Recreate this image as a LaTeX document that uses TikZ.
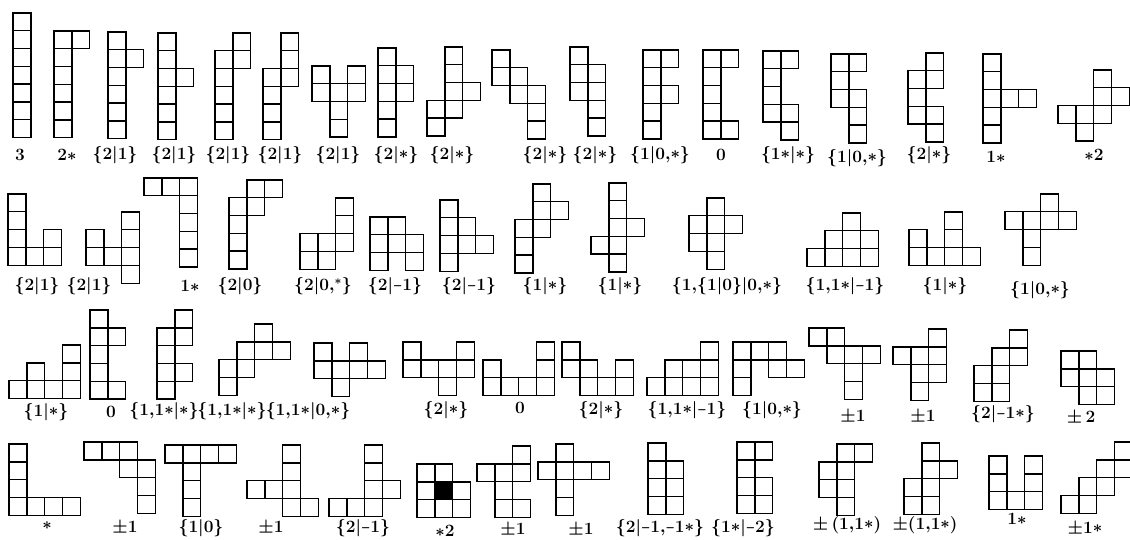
\documentclass[tikz,border=0pt]{standalone}
\usepackage{amsmath,amssymb,graphicx}
\usepackage{tikz}
\newcommand{\st}{\mathord{\raisebox{0.03em}{\scalebox{0.95}{$\ast$}}}}
\newcommand{\mn}{\mathord{\scalebox{0.6}[1]{$-$}}}
\newcommand{\cm}{\mathord{,}}

\begin{document}
\begin{tikzpicture}[x=1pt,y=-1pt,
cell/.style={draw=black,line width=1.4pt},
val/.style={inner sep=0pt,text=black,font=\fontsize{17}{17}\selectfont\boldmath}]
\def\u{17.8}
\fill[white] (0,0) rectangle (1130,540);
\useasboundingbox (0,0) rectangle (1130,540);

% row 1
\foreach \ox/\oy/\cells in {13/13/{0/0,0/1,0/2,0/3,0/4,0/5,0/6},
 54/31/{0/0,1/0,0/1,0/2,0/3,0/4,0/5},
 108/32/{0/0,0/1,1/1,0/2,0/3,0/4,0/5},
 158/33/{0/0,0/1,0/2,1/2,0/3,0/4,0/5},
 215/33/{1/0,1/1,0/1,0/2,0/3,0/4,0/5},
 263/33/{1/0,1/1,1/2,0/2,0/3,0/4,0/5},
 312/66/{0/0,0/1,1/1,1/2,1/3,2/0,2/1},
 378/48/{0/0,0/1,0/2,0/3,0/4,1/1,1/2},
 427/47/{1/0,1/1,1/2,1/3,2/2,0/3,0/4},
 492/50/{0/0,0/1,1/1,1/2,2/2,2/3,2/4},
 570/47/{0/0,0/1,0/2,1/1,1/2,1/3,1/4},
 643/50/{0/0,0/1,0/2,0/3,0/4,1/0,1/2},
 703/50/{0/0,0/1,0/2,0/3,0/4,1/0,1/4},
 763/51/{0/0,0/1,0/2,0/3,1/0,1/3,1/4},
 831/54/{0/0,0/1,0/2,1/0,1/2,1/3,1/4},
 908/53/{1/0,1/1,0/1,0/2,0/3,1/3,1/4},
 983/54/{0/0,0/1,0/2,0/3,0/4,1/2,2/2},
 1058/70/{2/0,2/1,3/1,0/2,1/2,2/2,1/3}}
{
\foreach \c/\r in \cells
 \draw[cell] ({\ox+\u*\c},{\oy+\u*\r}) rectangle ++(\u,\u);
}
\foreach \x/\y/\t [count=\i] in {20/155/{$3$},67/155/{$2\st$},
 115/155/{$\{2|1\}$},174/155/{$\{2|1\}$},228/155/{$\{2|1\}$},280/155/{$\{2|1\}$},338/155/{$\{2|1\}$},
 396/155/{$\{2|\st\}$},452/155/{$\{2|\st\}$},545/155/{$\{2|\st\}$},595/155/{$\{2|\st\}$},
 660/155/{$\{1|0\cm\st\}$},721/155/{$0$},788/155/{$\{1\st|\st\}$},857/158/{$\{1|0\cm\st\}$},
 929/155/{$\{2|\st\}$},996/157/{$1\st$},1094/155/{$\st2$}}
{
\node[val] (a\i) at (\x,\y) {\t};
}

% row 2
\foreach \ox/\oy/\cells in {8/194/{0/0,0/1,0/2,0/3,1/3,2/2,2/3},
 86/212/{2/0,2/1,2/2,2/3,0/1,0/2,1/2},
 144/178/{0/0,1/0,2/0,2/1,2/2,2/3,2/4},
 229/180/{1/0,2/0,0/1,1/1,0/2,0/3,0/4},
 300/198/{2/0,2/1,2/2,0/2,0/3,1/2,1/3},
 370/217/{0/0,0/1,0/2,1/0,1/1,2/1,2/2},
 440/200/{0/0,0/1,0/2,0/3,1/1,1/2,2/2},
 515/184/{1/0,1/1,1/2,2/1,0/2,0/3,0/4},
 591/183/{1/0,1/1,1/2,1/3,1/4,2/2,0/3},
 689/198/{1/0,1/1,1/2,1/3,2/1,0/1,0/2},
 807/213/{2/0,1/1,2/1,3/1,0/2,1/2,2/2,3/2},
 909/212/{0/2,1/2,2/2,3/2,0/1,2/0,2/1},
 1005/194/{2/0,0/1,1/1,2/1,3/1,1/2,1/3}}
{
\foreach \c/\r in \cells
 \draw[cell] ({\ox+\u*\c},{\oy+\u*\r}) rectangle ++(\u,\u);
}
\foreach \x/\y/\t [count=\i] in {37/286/{$\{2|1\}$},89/286/{$\{2|1\}$},190/286/{$1\st$},
 240/286/{$\{2|0\}$},323/286/{$\{2|0\cm{}^{*}\}$},395/286/{$\{2|\mn1\}$},469/286/{$\{2|\mn1\}$},
 545/286/{$\{1|\st\}$},620/286/{$\{1|\st\}$},727/286/{$\{1\cm\{1|0\}|0\cm\st\}$},
 845/286/{$\{1\cm1\st|\mn1\}$},945/286/{$\{1|\st\}$},1040/290/{$\{1|0\cm\st\}$}}
{
\node[val] (b\i) at (\x,\y) {\t};
}

% row 3
\foreach \ox/\oy/\cells in {9/345/{0/2,1/2,2/2,3/2,1/1,3/0,3/1},
 90/310/{0/0,0/1,0/2,0/3,0/4,1/1,1/4},
 157/310/{1/0,0/1,1/1,0/2,0/3,1/3,0/4},
 219/324/{2/0,1/1,2/1,3/1,0/2,1/2,0/3},
 314/343/{0/0,2/0,0/1,1/1,2/1,3/1,1/2},
 403/342/{0/0,3/0,0/1,1/1,2/1,3/1,2/2},
 483/342/{3/0,3/1,3/2,0/1,0/2,1/2,2/2},
 562/342/{0/0,0/1,1/1,1/2,2/2,3/1,3/2},
 647/342/{0/2,1/2,2/2,3/2,1/1,2/1,3/1,3/0},
 733/342/{0/0,0/1,0/2,1/0,2/0,2/1,3/1},
 809/328/{0/0,1/0,1/1,2/1,3/1,2/2,2/3},
 893/329/{2/0,0/1,1/1,2/1,1/2,2/2,1/3},
 974/330/{2/0,2/1,1/1,1/2,1/3,0/2,0/3},
 1061/351/{0/0,1/0,0/1,1/1,2/1,1/2,2/2}}
{
\foreach \c/\r in \cells
 \draw[cell] ({\ox+\u*\c},{\oy+\u*\r}) rectangle ++(\u,\u);
}
\foreach \x/\y/\t [count=\i] in {46/412/{$\{1|\st\}$},111/412/{$0$},
 164/411/{$\{1\cm1\st|\st\}$},232/411/{$\{1\cm1\st|\st\}$},308/411/{$\{1\cm1\st|0\cm\st\}$},
 446/410/{$\{2|\st\}$},520/408/{$0$},601/410/{$\{2|\st\}$},687/410/{$\{1\cm1\st|\mn1\}$},
 772/410/{$\{1|0\cm\st\}$},853/417/{$\pm1$},923/417/{$\pm1$},1003/414/{$\{2|\mn1\st\}$},
 1081/418/{$\pm\,2$}}
{
\node[val] (c\i) at (\x,\y) {\t};
}

% row 4
\foreach \ox/\oy/\cells in {9/444/{0/0,0/1,0/2,0/3,1/3,2/3,3/3},
 84/442/{0/0,1/0,2/0,2/1,3/1,3/2,3/3},
 165/445/{0/0,1/0,2/0,3/0,1/1,1/2,1/3},
 247/445/{2/0,2/1,2/2,2/3,0/2,1/2,3/3},
 329/445/{2/0,2/1,2/2,2/3,0/3,1/3,3/2},
 417/464/{0/0,1/0,0/1,1/1,2/1,0/2,1/2,2/2},
 477/446/{2/0,0/1,1/1,2/1,1/2,1/3,2/3},
 538/444/{1/0,1/1,1/2,1/3,0/1,2/1,3/1},
 648/443/{0/0,0/1,0/2,0/3,1/1,1/2,1/3},
 737/442/{0/0,0/1,0/2,0/3,1/0,1/2,1/3},
 819/444/{1/0,1/1,1/2,1/3,2/0,0/1,0/2},
 904/443/{1/0,1/1,1/2,1/3,2/1,0/2,0/3},
 989/456/{0/0,0/1,0/2,2/0,2/1,2/2,1/2},
 1061/442/{0/3,1/3,1/2,2/2,2/1,3/1,3/0}}
{
\foreach \c/\r in \cells
 \draw[cell] ({\ox+\u*\c},{\oy+\u*\r}) rectangle ++(\u,\u);
}
%\draw[cell] (417,464) rectangle ++(53.4,53.4);
\filldraw[cell,fill=black] ({417+\u},{464+\u}) rectangle ++(\u,\u);
\foreach \x/\y/\t [count=\i] in {47/526/{$\st$},125/528/{$\pm1$},201/528/{$\{1|0\}$},
 271/528/{$\pm1$},363/528/{$\{2|\mn1\}$},445/531/{$\st2$},513/530/{$\pm1$},581/530/{$\pm1$},
 660/528/{$\{2|\mn1\cm\mn1\st\}$},743/528/{$\{1\st|\mn2\}$},847/525/{$\pm\,(1\cm1\st)$},
 925/525/{$\pm(1\cm1\st)$},1017/519/{$1\st$},1085/529/{$\pm1\st$}}
{
\node[val] (d\i) at (\x,\y) {\t};
}
\end{tikzpicture}
\end{document}
